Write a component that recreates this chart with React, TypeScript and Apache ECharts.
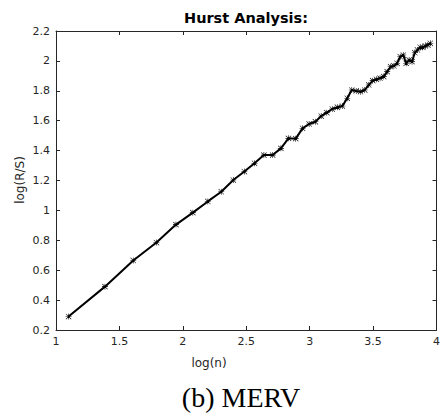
import React, { useEffect, useRef } from "react";
import * as echarts from "echarts";

const logN = [
  1.099, 1.386, 1.609, 1.792, 1.946, 2.079, 2.197, 2.303, 2.398, 2.485,
  2.565, 2.639, 2.708, 2.773, 2.833, 2.89, 2.944, 2.996, 3.045, 3.091,
  3.135, 3.178, 3.219, 3.258, 3.296, 3.332, 3.367, 3.401, 3.434, 3.466,
  3.497, 3.526, 3.555, 3.584, 3.611, 3.638, 3.664, 3.689, 3.714, 3.738,
  3.761, 3.784, 3.807, 3.829, 3.85, 3.871, 3.892, 3.912, 3.932, 3.951,
];
const logRS = [
  0.29, 0.49, 0.665, 0.785, 0.905, 0.985, 1.06, 1.125, 1.203, 1.26,
  1.315, 1.37, 1.37, 1.415, 1.482, 1.48, 1.549, 1.578, 1.593, 1.631,
  1.654, 1.678, 1.69, 1.698, 1.75, 1.805, 1.799, 1.794, 1.805, 1.839,
  1.868, 1.877, 1.884, 1.895, 1.928, 1.961, 1.966, 1.984, 2.028, 2.039,
  1.984, 2.006, 1.995, 2.055, 2.073, 2.091, 2.091, 2.1, 2.106, 2.118,
];
const xTicks = [1, 1.5, 2, 2.5, 3, 3.5, 4];
const yTicks = [0.2, 0.4, 0.6, 0.8, 1, 1.2, 1.4, 1.6, 1.8, 2, 2.2];

const TITLE = "Hurst Analysis:";
const XLABEL = "log(n)";
const YLABEL = "log(R/S)";
const CAPTION = "(b) MERV";

const ASTERISK =
  "path://M0,4.5H10V5.5H0Z M4.5,0H5.5V10H4.5Z M0.9,0.2L9.8,9.1L9.1,9.8L0.2,0.9Z M9.1,0.2L9.8,0.9L0.9,9.8L0.2,9.1Z";

export default function App() {
  const ref = useRef<HTMLDivElement>(null);
  useEffect(() => {
    if (!ref.current) return;
    const chart = echarts.init(ref.current, undefined, { renderer: "svg" });
    const axisColor = "#262626";
    const font = "DejaVu Sans";
    const fmt = (v: number) => String(Math.round(v * 10) / 10);
    const frameAxis = (position: string) => ({
      position,
      axisLine: { show: true, onZero: false, lineStyle: { color: axisColor, width: 1 } },
      axisTick: { show: true, inside: true, length: 4, lineStyle: { color: axisColor } },
      splitLine: { show: false },
    });
    chart.setOption({
      animation: false,
      backgroundColor: "#ffffff",
      grid: { left: 56, top: 31, right: 6, bottom: 88, containLabel: false },
      xAxis: [
        {
          type: "value",
          min: 1,
          max: 4,
          interval: 0.5,
          ...frameAxis("bottom"),
          axisLabel: {
            show: true,
            color: axisColor,
            fontFamily: font,
            fontSize: 11,
            margin: 6,
            formatter: (v: number) => (xTicks.some((t) => Math.abs(t - v) < 1e-6) ? fmt(v) : ""),
          },
        },
        {
          type: "value",
          min: 1,
          max: 4,
          interval: 0.5,
          ...frameAxis("top"),
          axisLabel: { show: false },
        },
      ],
      yAxis: [
        {
          type: "value",
          min: 0.2,
          max: 2.2,
          interval: 0.2,
          ...frameAxis("left"),
          axisLabel: {
            show: true,
            color: axisColor,
            fontFamily: font,
            fontSize: 11,
            margin: 6,
            formatter: (v: number) => {
              const t = yTicks.find((y) => Math.abs(y - v) < 1e-6);
              return t === undefined ? "" : fmt(t);
            },
          },
        },
        {
          type: "value",
          min: 0.2,
          max: 2.2,
          interval: 0.2,
          ...frameAxis("right"),
          axisLabel: { show: false },
        },
      ],
      series: [
        {
          type: "line",
          xAxisIndex: 0,
          yAxisIndex: 0,
          data: logN.map((x, i) => [x, logRS[i]]),
          symbol: ASTERISK,
          symbolSize: 6,
          showAllSymbol: true,
          itemStyle: { color: "#000000" },
          lineStyle: { color: "#000000", width: 2 },
        },
      ],
      graphic: [
        {
          type: "text",
          x: 246,
          y: 18,
          style: {
            text: TITLE,
            font: `bold 14.5px ${font}`,
            fill: "#000000",
            align: "center",
            verticalAlign: "middle",
          },
        },
        {
          type: "text",
          x: 209,
          y: 363,
          style: {
            text: XLABEL,
            font: `12px ${font}`,
            fill: axisColor,
            align: "center",
            verticalAlign: "middle",
          },
        },
        {
          type: "text",
          x: 20,
          y: 180,
          rotation: Math.PI / 2,
          style: {
            text: YLABEL,
            font: `12px ${font}`,
            fill: axisColor,
            align: "center",
            verticalAlign: "middle",
          },
        },
        {
          type: "text",
          x: 241,
          y: 397,
          style: {
            text: CAPTION,
            font: `28px "Liberation Serif"`,
            fill: "#000000",
            align: "center",
            verticalAlign: "middle",
          },
        },
      ],
    });
    return () => chart.dispose();
  }, []);
  return (
    <div
      ref={ref}
      style={{ position: "fixed", left: 0, top: 0, width: 443, height: 418 }}
    />
  );
}
